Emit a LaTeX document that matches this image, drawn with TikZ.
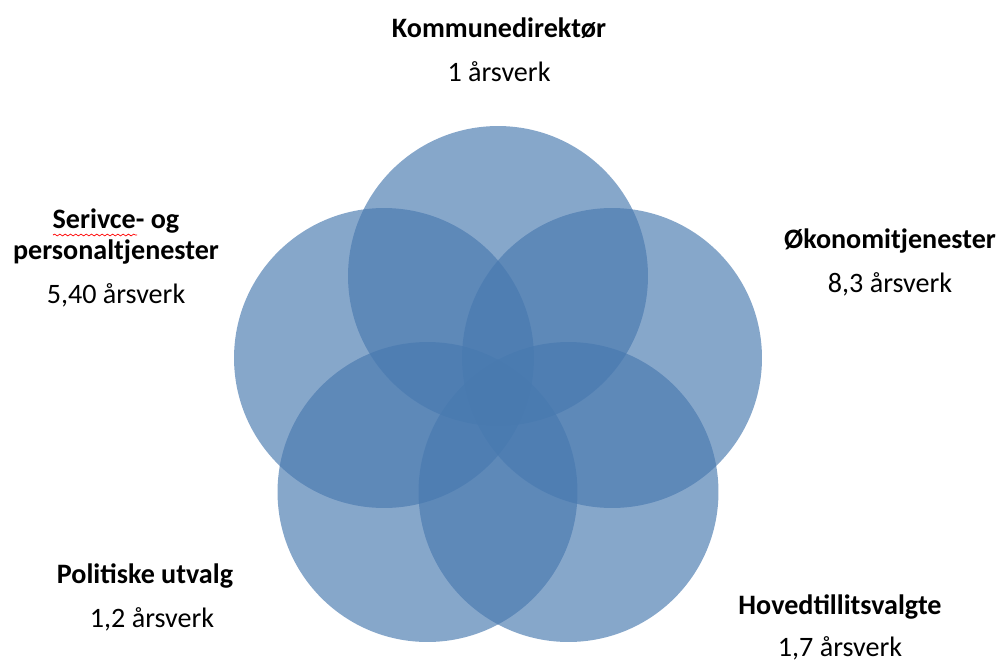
\documentclass[tikz,border=0pt]{standalone}
\usepackage{fontspec}
\setmainfont{Carlito}
\usetikzlibrary{positioning,decorations.pathmorphing}

\definecolor{petalblue}{RGB}{72,121,175}

\begin{document}
\begin{tikzpicture}[x=0.02cm,y=-0.02cm,node distance=11pt,
  petal/.style={circle,fill=petalblue,fill opacity=0.66,minimum size=6cm,inner sep=0pt},
  title/.style={font=\bfseries\fontsize{16}{17.6}\selectfont,inner sep=0pt,text height=11pt,text depth=3pt,align=center},
  count/.style={font=\fontsize{16}{17.6}\selectfont,inner sep=0pt,text height=11pt,text depth=3pt}]
  \useasboundingbox (0,0) rectangle (1003,666);

  % five petals round (498,395)
  \node[petal] (p_top)   at (498,276)   {};
  \node[petal] (p_right) at (612,358)   {};
  \node[petal] (p_br)    at (568.5,492) {};
  \node[petal] (p_bl)    at (427.5,492) {};
  \node[petal] (p_left)  at (384,358)   {};

  % labels
  \node[title] (kd)    at (499,30)  {Kommunedirektør};
  \node[count] (kd_n)  [below=of kd]    {1 årsverk};
  \node[title] (okon)  at (890,241) {Økonomitjenester};
  \node[count] (okon_n)[below=of okon]  {8,3 årsverk};
  \node[title] (hoved) at (840,607) {Hovedtillitsvalgte};
  \node[count] (hoved_n)[below=10pt of hoved]{1,7 årsverk};
  \node[title] (polit) at (145,576) {Politiske utvalg};
  \node[count] (polit_n)[below=of polit,xshift=4pt]{1,2 årsverk};
  \node[title] (serv)  at (116,252) {Serivce- og\\personaltjenester};
  \node[count] (serv_n)[below=of serv]  {5,40 årsverk};

  \draw[red,decorate,decoration={snake,amplitude=0.5pt,segment length=3pt}]
    (53,235) -- (137,235);
\end{tikzpicture}
\end{document}
